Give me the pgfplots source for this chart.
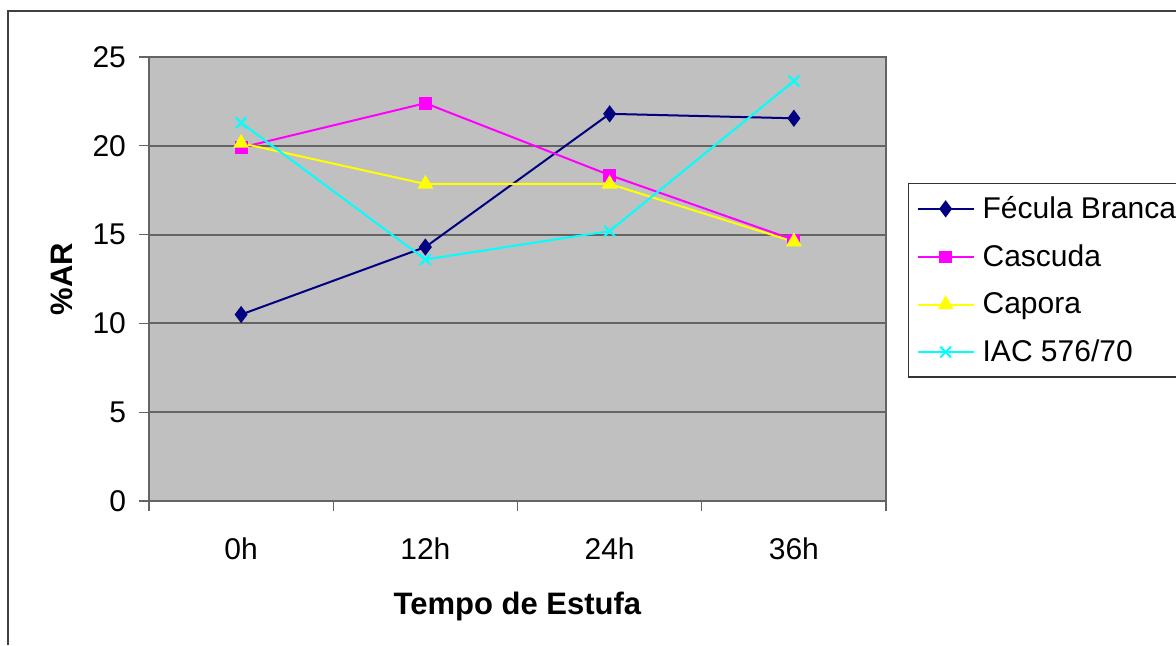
\documentclass[border=0pt]{standalone}
\usepackage{fontspec}
\setmainfont{Liberation Sans}
\usepackage{pgfplots}
\pgfplotsset{compat=1.18}

\definecolor{plotbg}{RGB}{192,192,192}
\definecolor{gridc}{RGB}{100,100,100}
\definecolor{navyc}{RGB}{0,0,128}
\definecolor{magc}{RGB}{255,0,255}
\definecolor{yelc}{RGB}{255,255,0}
\definecolor{cyac}{RGB}{0,255,255}

\begin{document}
\begin{tikzpicture}
\useasboundingbox (0,0) rectangle (588pt,322.5pt);
\draw[line width=0.8pt, black!75] (4pt,0pt) -- (4pt,317pt) -- (590pt,317pt);
\begin{axis}[
    at={(74.5pt,72pt)}, anchor=south west,
    scale only axis,
    width=368.5pt, height=222pt,
    xmin=-0.5, xmax=3.5,
    ymin=0, ymax=25,
    ytick={0,5,...,25},
    xtick={-0.5,0.5,1.5,2.5,3.5},
    x tick label as interval,
    xticklabels={0h,12h,24h,36h},
    xtick pos=bottom, ytick pos=left,
    tick align=outside,
    major tick length=5pt,
    tick style={gridc, line width=0.6pt},
    axis background/.style={fill=plotbg},
    axis line style={gridc, line width=0.8pt},
    ymajorgrids,
    major grid style={gridc, line width=1pt},
    ticklabel style={font=\fontsize{15}{18}\selectfont},
    /pgf/number format/assume math mode=true,
    xticklabel style={yshift=-10pt},
    yticklabel style={xshift=-3pt},
    xlabel={\textbf{Tempo de Estufa}},
    ylabel={\textbf{\%AR}},
    label style={font=\fontsize{15.5}{18}\selectfont},
    xlabel style={yshift=-9pt},
    ylabel style={yshift=3pt},
    legend cell align=left,
    legend style={
        at={(axis description cs:1.0299,0.716)}, anchor=north west,
        draw=black!80, fill=white, line width=0.6pt,
        font=\fontsize{15}{18}\selectfont,
        row sep=7.6pt, inner xsep=4pt, inner ysep=4.3pt,
        nodes={inner xsep=4pt},
    },
    legend image code/.code={
        \draw[mark repeat=2, mark phase=2] plot coordinates {(0pt,0pt) (14pt,0pt) (28pt,0pt)};
    },
]
\addplot[navyc, line width=1pt, mark=diamond*, mark size=3.5pt, mark options={fill=navyc, draw=navyc}]
    coordinates {(0,10.5) (1,14.3) (2,21.8) (3,21.55)};
\addlegendentry{Fécula Branca}
\addplot[magc, line width=1pt, mark=square*, mark size=2.7pt, mark options={fill=magc, draw=magc}]
    coordinates {(0,19.9) (1,22.4) (2,18.35) (3,14.7)};
\addlegendentry{Cascuda}
\addplot[yelc, line width=1pt, mark=triangle*, mark size=3.6pt, mark options={fill=yelc, draw=yelc}]
    coordinates {(0,20.15) (1,17.85) (2,17.85) (3,14.6)};
\addlegendentry{Capora}
\addplot[cyac, line width=1pt, mark=x, mark size=3.8pt, mark options={draw=cyac, line width=1pt}]
    coordinates {(0,21.3) (1,13.6) (2,15.2) (3,23.65)};
\addlegendentry{IAC 576/70}
\end{axis}
\end{tikzpicture}
\end{document}
